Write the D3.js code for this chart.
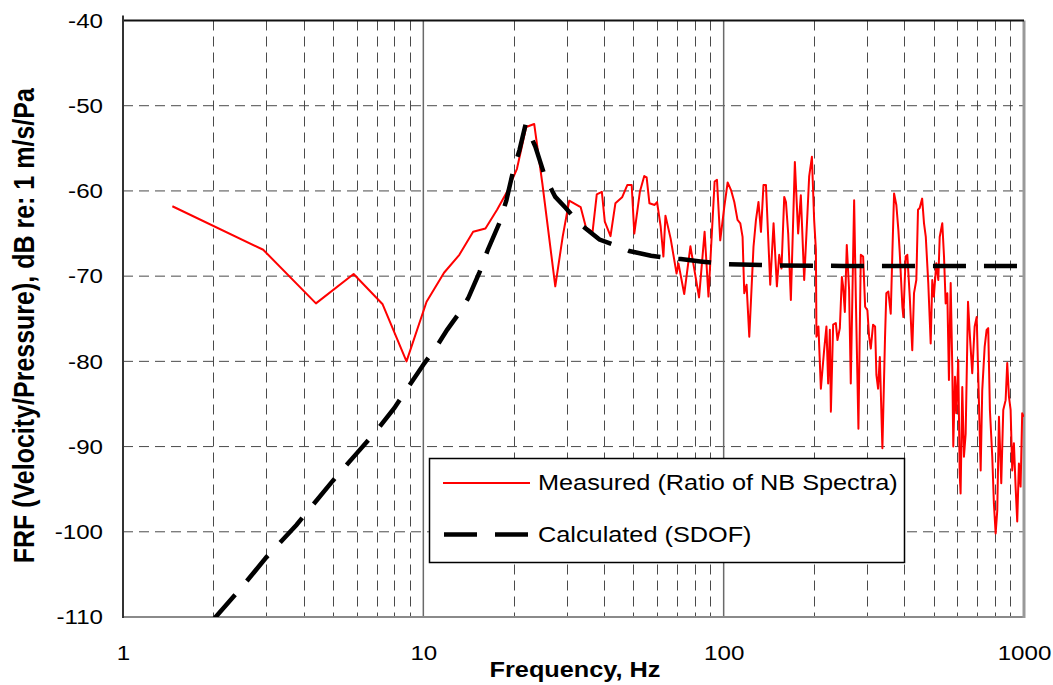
<!DOCTYPE html>
<html><head><meta charset="utf-8">
<script src="https://cdn.jsdelivr.net/npm/d3@7"></script>
<style>
html,body{margin:0;padding:0;background:#fff;}
svg{display:block;}
text{font-family:"Liberation Sans",Arial,sans-serif;fill:#000;}
</style></head>
<body>
<svg id="chart" width="1053" height="685"></svg>
<script>
// ---- data ----
const xTickValues = [1, 10, 100, 1000];
const yTickValues = [-40, -50, -60, -70, -80, -90, -100, -110];
const seriesNames = ["Measured (Ratio of NB Spectra)", "Calculated (SDOF)"];

const measFreq = [1.46,2.93,4.39,5.86,7.32,8.79,10.25,11.72,13.18,14.65,16.1,17.6,19.0,20.5,22.0,23.4,24.9,27.5,29.1,30.6,
33.4,34.8,36.6,37.8,39.3,40.2,42.0,43.6,45.9,47.8,49.4,50.4,52.6,54.4,55.4,56.6,58.9,60.0,61.7,63.0,
64.0,66.6,69.7,70.7,73.9,77.5,82.8,86.4,89.0,93.3,95.0,97.4,100.5,103.1,105.8,108.5,111.2,113.6,115.6,117.1,
119.2,121.7,125.7,128.1,130.6,133.1,135.7,138.3,142.9,146.6,150.4,153.1,155.8,159.1,161.2,164.0,167.4,172.6,177.0,180.7,
185.4,190.1,192.6,196.7,200.1,202.8,203.7,206.8,210.7,216.0,219.9,222.8,225.7,227.5,231.5,236.3,239.3,243.7,247.5,249.9,
253.2,257.0,261.6,265.0,271.9,275.4,281.0,286.2,291.3,295.8,301.0,305.0,308.9,314.4,319.3,322.5,326.7,331.1,337.7,344.6,
348.0,353.4,360.0,364.5,369.3,375.8,381.7,385.8,393.6,396.6,403.6,408.8,416.5,424.6,430.3,438.0,443.7,449.5,458.0,464.6,
471.0,480.0,489.0,495.0,501.0,510.5,518.4,524.0,534.5,541.6,548.5,555.5,562.4,570.0,577.0,581.5,589.0,595.0,604.0,610.7,
615.0,623.0,631.0,639.4,651.0,660.7,672.5,685.0,695.8,708.0,717.3,726.0,739.6,750.9,760.0,770.0,784.0,794.0,804.6,814.7,
825.3,840.0,853.0,868.6,879.4,890.8,902.5,913.7,925.5,937.6,949.4,961.7,974.3,986.3,998.0];
const measDb = [-61.8,-66.9,-73.2,-69.75,-73.3,-80.0,-73.0,-69.6,-67.5,-64.8,-64.4,-62.2,-60.1,-57.4,-52.5,-52.15,-59.1,-71.2,-65.4,-61.15,
-61.9,-64.3,-64.8,-60.4,-60.1,-63.6,-65.3,-61.45,-60.75,-59.3,-59.3,-65.0,-60.1,-58.25,-58.4,-61.45,-61.65,-61.3,-64.2,-67.7,
-62.9,-65.6,-69.7,-68.5,-72.1,-66.5,-72.5,-64.8,-72.4,-58.9,-58.7,-65.8,-61.85,-59.0,-59.9,-61.3,-63.4,-63.8,-65.4,-72.0,
-71.0,-77.1,-66.55,-63.4,-61.3,-64.8,-59.3,-59.3,-71.0,-63.8,-71.2,-67.5,-69.1,-60.7,-61.3,-65.0,-72.8,-56.6,-65.0,-60.5,
-70.45,-62.6,-58.3,-56.0,-63.4,-66.9,-77.1,-75.9,-83.2,-78.7,-75.9,-82.6,-76.3,-85.9,-75.7,-75.5,-77.5,-76.1,-70.1,-71.2,
-74.2,-66.35,-71.6,-82.6,-61.1,-72.4,-87.9,-67.5,-67.7,-73.6,-74.0,-77.1,-78.5,-75.7,-75.9,-81.6,-83.2,-79.5,-90.2,-77.1,
-72.0,-71.8,-74.4,-67.3,-60.3,-61.65,-64.6,-67.3,-73.6,-74.8,-67.7,-67.5,-72.4,-78.7,-72.0,-70.45,-62.2,-62.0,-60.9,-63.8,
-65.4,-70.8,-77.9,-70.45,-72.4,-68.5,-70.45,-65.4,-63.8,-67.7,-73.2,-72.0,-82.2,-70.8,-80.6,-90.0,-81.8,-86.1,-79.85,-93.1,
-95.5,-83.0,-91.2,-88.5,-73.0,-77.1,-81.4,-75.9,-74.8,-84.9,-92.8,-83.4,-78.3,-76.3,-76.1,-85.7,-91.2,-96.7,-100.2,-97.5,
-86.5,-94.3,-85.7,-84.55,-80.2,-84.1,-85.7,-92.8,-89.6,-94.7,-98.8,-92.0,-94.7,-86.1,-86.5];

const sdofFreq = [2.0,2.5,3.0,3.78,5.0,6.0,7.0,8.0,9.0,10.0,11.0,12.0,13.0,14.1,15.4,16.4,17.9,18.9,19.9,20.9,
21.9,23.6,25.4,27.5,29.8,33.0,38.6,43.7,48.5,57.3,66,72,85,104,150,250,1000];
const sdofDb = [-110.3,-106.4,-103.0,-99.2,-94.0,-90.8,-88.1,-85.5,-82.8,-80.4,-78.4,-76.3,-74.6,-72.6,-69.5,-66.9,-63.8,-61.1,-57.7,-55.2,
-52.2,-54.8,-58.3,-60.7,-62.0,-63.8,-65.7,-66.4,-67.05,-67.6,-67.9,-68.0,-68.3,-68.6,-68.75,-68.8,-68.8];

// ---- layout ----
const X0 = 123, X1 = 1024, Y0 = 20.5, Y1 = 617;
const SX = 1.15; // horizontal glyph stretch of the reference
const svg = d3.select("#chart");
const x = d3.scaleLog().domain([1, 1000]).range([X0, X1]);
const y = d3.scaleLinear().domain([-110, -40]).range([Y1, Y0]);

svg.append("defs").append("clipPath").attr("id", "clip")
  .append("rect").attr("x", X0).attr("y", Y0).attr("width", X1 - X0).attr("height", Y1 - Y0);

// gridlines
const grid = svg.append("g");
grid.selectAll("line.h").data(yTickValues.filter(v => v > -110 && v < -40)).join("line")
  .attr("x1", X0).attr("x2", X1).attr("y1", d => y(d)).attr("y2", d => y(d))
  .attr("stroke", "#4a4a4a").attr("stroke-width", 1).attr("stroke-dasharray", "10,6");
const minor = [];
[1, 10, 100].forEach(dec => { for (let k = 2; k <= 9; k++) minor.push(dec * k); });
grid.selectAll("line.vm").data(minor).join("line")
  .attr("x1", d => Math.round(x(d)) + 0.5).attr("x2", d => Math.round(x(d)) + 0.5)
  .attr("y1", Y0).attr("y2", Y1)
  .attr("stroke", "#4a4a4a").attr("stroke-width", 1).attr("stroke-dasharray", "10,6");
grid.selectAll("line.vM").data([10, 100]).join("line")
  .attr("x1", d => x(d)).attr("x2", d => x(d)).attr("y1", Y0).attr("y2", Y1)
  .attr("stroke", "#6a6a6a").attr("stroke-width", 1.5);

// plot border
svg.append("line").attr("x1", X0).attr("x2", X1).attr("y1", Y1).attr("y2", Y1).attr("stroke", "#8a8a8a").attr("stroke-width", 2);
svg.append("line").attr("x1", X1).attr("x2", X1).attr("y1", Y0).attr("y2", Y1 + 1).attr("stroke", "#999").attr("stroke-width", 3);
svg.append("line").attr("x1", X0).attr("x2", X1).attr("y1", Y0).attr("y2", Y0).attr("stroke", "#111").attr("stroke-width", 2);

// series
const lineGen = d3.line().x(d => x(d[0])).y(d => y(d[1]));
const plot = svg.append("g").attr("clip-path", "url(#clip)");
plot.append("path").datum(d3.zip(measFreq, measDb)).attr("d", lineGen)
  .attr("fill", "none").attr("stroke", "#ff0000").attr("stroke-width", 2).attr("stroke-linejoin", "round");
plot.append("path").datum(d3.zip(sdofFreq, sdofDb)).attr("d", lineGen)
  .attr("fill", "none").attr("stroke", "#000").attr("stroke-width", 4.5).attr("stroke-dasharray", "33,18");

// left axis line
svg.append("line").attr("x1", X0).attr("x2", X0).attr("y1", Y0 - 5).attr("y2", Y1 + 1).attr("stroke", "#333").attr("stroke-width", 2);

// axes labels
const fmt = d => String(d);
const yAxis = svg.append("g").attr("transform", `translate(${X0},0)`)
  .call(d3.axisLeft(y).tickValues(yTickValues).tickSize(0).tickPadding(17.4).tickFormat(fmt));
yAxis.select(".domain").remove();
yAxis.selectAll("text").attr("font-size", 21).attr("font-family", "Liberation Sans, Arial, sans-serif")
  .attr("transform", `scale(${SX},1)`);

const xAxis = svg.append("g").attr("transform", `translate(0,${Y1})`)
  .call(d3.axisBottom(x).tickValues(xTickValues).tickSize(0).tickPadding(28).tickFormat(fmt));
xAxis.select(".domain").remove();
xAxis.selectAll("text").attr("font-size", 21).attr("font-family", "Liberation Sans, Arial, sans-serif")
  .attr("transform", `scale(${SX},1)`);

// axis titles
svg.append("text").attr("text-anchor", "middle").attr("font-weight", "bold").attr("font-size", 22)
  .attr("transform", `translate(575,677) scale(${SX},1)`).text("Frequency, Hz");
svg.append("text").attr("text-anchor", "middle").attr("font-weight", "bold").attr("font-size", 25)
  .attr("transform", `translate(34,${(Y0 + Y1) / 2 + 7}) scale(${SX},1) rotate(-90)`)
  .text("FRF (Velocity/Pressure), dB re: 1 m/s/Pa");

// legend
const lg = svg.append("g");
lg.append("rect").attr("x", 429.5).attr("y", 458.5).attr("width", 475).attr("height", 104)
  .attr("fill", "#fff").attr("stroke", "#000").attr("stroke-width", 1.5);
lg.append("line").attr("x1", 443).attr("x2", 530).attr("y1", 483).attr("y2", 483)
  .attr("stroke", "#ff0000").attr("stroke-width", 2);
lg.append("line").attr("x1", 444).attr("x2", 528).attr("y1", 534.5).attr("y2", 534.5)
  .attr("stroke", "#000").attr("stroke-width", 4.5).attr("stroke-dasharray", "33,18");
lg.selectAll("text.lab").data(seriesNames).join("text")
  .attr("font-size", 22)
  .attr("transform", (d, i) => `translate(538,${490 + i * 51.5}) scale(${SX},1)`)
  .text(d => d);
</script>
</body></html>
